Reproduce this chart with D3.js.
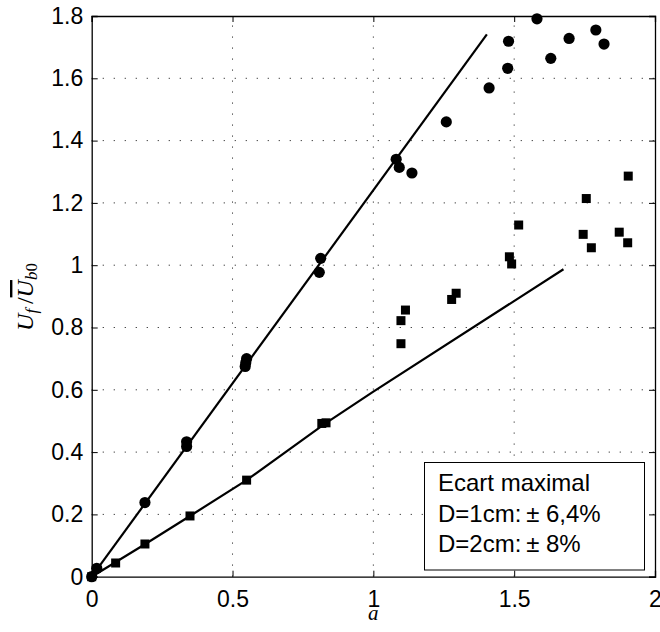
<!DOCTYPE html>
<html>
<head>
<meta charset="utf-8">
<script src="https://cdn.jsdelivr.net/npm/d3@7"></script>
<style>
html,body{margin:0;padding:0;background:#fff;}
svg{display:block;}
</style>
</head>
<body>
<svg id="chart" width="660" height="632"></svg>
<script>
// ---- data ----
const circlesX = [0, 0.018, 0.189, 0.337, 0.337, 0.545, 0.547, 0.55, 0.808, 0.813, 1.081, 1.092, 1.137, 1.259, 1.411, 1.477, 1.48, 1.581, 1.63, 1.695, 1.79, 1.819];
const circlesY = [0, 0.027, 0.238, 0.418, 0.433, 0.675, 0.687, 0.70, 0.977, 1.022, 1.34, 1.314, 1.296, 1.46, 1.569, 1.632, 1.719, 1.791, 1.664, 1.728, 1.755, 1.71];
const squaresX = [0, 0.085, 0.189, 0.349, 0.55, 0.817, 0.832, 1.098, 1.098, 1.114, 1.278, 1.294, 1.483, 1.491, 1.516, 1.745, 1.756, 1.774, 1.873, 1.903, 1.905];
const squaresY = [0, 0.044, 0.105, 0.195, 0.31, 0.492, 0.494, 0.748, 0.822, 0.856, 0.89, 0.91, 1.027, 1.004, 1.129, 1.099, 1.214, 1.056, 1.106, 1.072, 1.286];
const line1X = [0, 1.403];
const line1Y = [0, 1.741];
const line2X = [0, 0.189, 0.349, 0.55, 0.826, 1.0, 1.675];
const line2Y = [0, 0.104, 0.195, 0.31, 0.49, 0.594, 0.987];
const xTicks = [0, 0.5, 1, 1.5, 2];
const yTicks = [0, 0.2, 0.4, 0.6, 0.8, 1, 1.2, 1.4, 1.6, 1.8];
const legendLines = ["Ecart maximal", "D=1cm:\u2009\u00B1 6,4%", "D=2cm:\u2009\u00B1 8%"];

// ---- layout ----
const L = 91.7, R = 655, T = 16, B = 576.7;
const svg = d3.select("#chart");
const x = d3.scaleLinear().domain([0, 2]).range([L, R]);
const y = d3.scaleLinear().domain([0, 1.8]).range([B, T]);
const font = "'Liberation Sans', Arial, Helvetica, sans-serif";
const serif = "'Liberation Serif', 'Times New Roman', serif";

// grid
const grid = svg.append("g");
grid.selectAll(".gx").data(xTicks.filter(d => d > 0 && d < 2)).enter().append("line")
  .attr("x1", d => x(d)).attr("x2", d => x(d)).attr("y1", B).attr("y2", T)
  .attr("stroke", "#333").attr("stroke-width", 1).attr("stroke-dasharray", "1.2,9.8");
grid.selectAll(".gy").data(yTicks.filter(d => d > 0 && d < 1.8)).enter().append("line")
  .attr("x1", L).attr("x2", R).attr("y1", d => y(d)).attr("y2", d => y(d))
  .attr("stroke", "#333").attr("stroke-width", 1).attr("stroke-dasharray", "1.2,9.8");

// axes with inward ticks
const axB = d3.axisBottom(x).tickValues(xTicks).tickSize(-6).tickPadding(13.5).tickFormat(d3.format("~g"));
const axT = d3.axisTop(x).tickValues(xTicks).tickSize(-6).tickFormat("");
const axL = d3.axisLeft(y).tickValues(yTicks).tickSize(-6).tickPadding(8.5).tickFormat(d3.format("~g"));
const axR = d3.axisRight(y).tickValues(yTicks).tickSize(-6).tickFormat("");
function styleAxis(g) {
  g.select(".domain").attr("stroke", "#000").attr("stroke-width", 1.3);
  g.selectAll(".tick line").attr("stroke", "#000").attr("stroke-width", 1);
  g.selectAll("text").attr("font-family", font).attr("font-size", 23).attr("fill", "#000");
}
svg.append("g").attr("transform", `translate(0,${B})`).call(axB).call(styleAxis);
svg.append("g").attr("transform", `translate(0,${T})`).call(axT).call(styleAxis);
svg.append("g").attr("transform", `translate(${L},0)`).call(axL).call(styleAxis);
svg.append("g").attr("transform", `translate(${R},0)`).call(axR).call(styleAxis);

// lines
const lineGen = d3.line().x(d => x(d[0])).y(d => y(d[1]));
svg.append("path").datum(line1X.map((v, i) => [v, line1Y[i]]))
  .attr("d", lineGen).attr("fill", "none").attr("stroke", "#000").attr("stroke-width", 2.2);
svg.append("path").datum(line2X.map((v, i) => [v, line2Y[i]]))
  .attr("d", lineGen).attr("fill", "none").attr("stroke", "#000").attr("stroke-width", 2.2);

// markers
svg.append("g").selectAll("rect").data(squaresX.map((v, i) => [v, squaresY[i]])).enter().append("rect")
  .attr("x", d => x(d[0]) - 4.5).attr("y", d => y(d[1]) - 4.5)
  .attr("width", 9).attr("height", 9).attr("fill", "#000");
svg.append("g").selectAll("circle").data(circlesX.map((v, i) => [v, circlesY[i]])).enter().append("circle")
  .attr("cx", d => x(d[0])).attr("cy", d => y(d[1])).attr("r", 5.6).attr("fill", "#000");

// legend box
const lg = svg.append("g");
lg.append("rect").attr("x", 424.5).attr("y", 462.5).attr("width", 220).attr("height", 107.5)
  .attr("fill", "#fff").attr("stroke", "#000").attr("stroke-width", 1);
lg.selectAll("text").data(legendLines).enter().append("text")
  .attr("x", 438).attr("y", (d, i) => 491 + i * 30.5)
  .attr("font-family", font).attr("font-size", 24).attr("fill", "#000")
  .text(d => d);

// x label
svg.append("text").attr("x", x(1)).attr("y", 619.5).attr("text-anchor", "middle")
  .attr("font-family", serif).attr("font-style", "italic")
  .attr("font-size", 21).text("a");

// y label
const yl = svg.append("text").attr("transform", "translate(33,297) rotate(-90)")
  .attr("text-anchor", "middle")
  .attr("font-family", serif).attr("font-size", 24);
yl.append("tspan").attr("font-style", "italic").text("U");
yl.append("tspan").attr("font-style", "italic").attr("font-size", 17).attr("dy", 4).text("f");
yl.append("tspan").attr("dy", -4).text("\u2009/");
yl.append("tspan").attr("font-style", "italic").attr("text-decoration", "overline").text("U");
yl.append("tspan").attr("font-style", "italic").attr("font-size", 17).attr("dy", 4).text("b");
yl.append("tspan").attr("font-size", 17).text("0");
</script>
</body>
</html>
